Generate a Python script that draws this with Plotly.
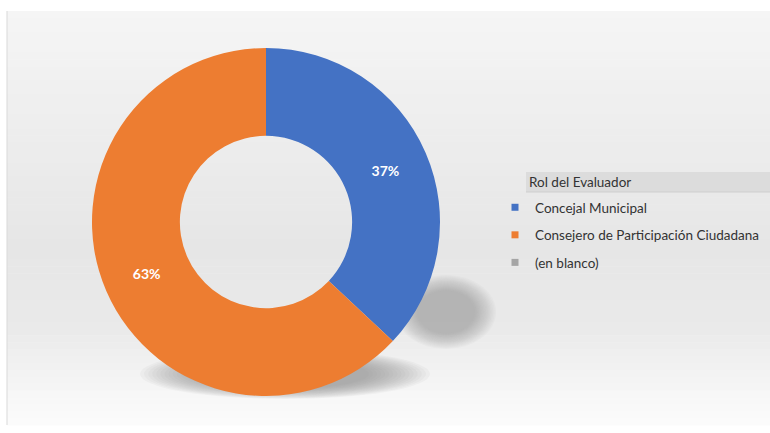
import plotly.graph_objects as go

labels = ["Concejal Municipal", "Consejero de Participación Ciudadana", "(en blanco)"]
values = [37, 63, 0]
pct_text = ["37%", "63%", ""]
colors = ["#4472C4", "#ED7D31", "#A5A5A5"]
legend_title = "Rol del Evaluador"

W, H = 770, 433

def px(x):
    return x / W

def py(y):
    return 1 - y / H

fig = go.Figure()
fig.add_trace(go.Pie(
    labels=labels,
    values=values,
    text=pct_text,
    textinfo="text",
    textposition="inside",
    insidetextfont=dict(color="white", size=14, family="Lato", weight="bold"),
    hole=0.495,
    sort=False,
    direction="clockwise",
    rotation=0,
    marker=dict(colors=colors, line=dict(width=0)),
    domain=dict(x=[px(92), px(440)], y=[py(396), py(48)]),
    showlegend=False,
))

# legend entries (one per category)
for i, (lab, col) in enumerate(zip(labels, colors)):
    fig.add_trace(go.Scatter(
        x=[None], y=[None], mode="markers", name=lab,
        legendgroup=str(i),
        marker=dict(symbol="square", size=7, color=col),
        showlegend=True, hoverinfo="skip",
    ))

shapes = []
# chart area background: vertical gradient
stops = [(11, (245, 245, 245)), (120, (238, 238, 238)), (250, (230, 230, 230)),
         (330, (234, 234, 234)), (390, (246, 246, 246)), (425, (252, 252, 252))]
N = 60
top, bot = 11, 425
for k in range(N):
    y0 = top + (bot - top) * k / N
    y1 = top + (bot - top) * (k + 1) / N
    ym = (y0 + y1) / 2
    for j in range(len(stops) - 1):
        if stops[j][0] <= ym <= stops[j + 1][0]:
            t = (ym - stops[j][0]) / (stops[j + 1][0] - stops[j][0])
            c = tuple(round(stops[j][1][m] + t * (stops[j + 1][1][m] - stops[j][1][m])) for m in range(3))
            break
    shapes.append(dict(type="rect", xref="paper", yref="paper", layer="below",
                       x0=px(7), x1=1, y0=py(y1 + 0.5), y1=py(y0),
                       fillcolor="rgb(%d,%d,%d)" % c, line=dict(width=0)))
shapes.append(dict(type="line", xref="paper", yref="paper", layer="below",
                   x0=px(7), x1=px(7), y0=py(425), y1=py(11),
                   line=dict(color="#d9d9d9", width=1)))
# soft shadows (stacked ellipses)
def soft_ellipse(cx, cy, rx, ry, steps=16, op=0.05, fmin=0.55):
    for s in range(steps):
        f = 1 - (1 - fmin) * s / steps
        shapes.append(dict(type="circle", xref="paper", yref="paper", layer="below",
                           x0=px(cx - rx * f), x1=px(cx + rx * f),
                           y0=py(cy + ry * f), y1=py(cy - ry * f),
                           fillcolor="#8a8a8a", opacity=op, line=dict(width=0)))
soft_ellipse(446, 312, 50, 37, op=0.045)
soft_ellipse(285, 374, 145, 25, op=0.06)
# legend title bar
shapes.append(dict(type="rect", xref="paper", yref="paper", layer="below",
                   x0=px(526), x1=1, y0=py(192), y1=py(172),
                   fillcolor="#dcdcdc", line=dict(width=0)))
shapes.append(dict(type="line", xref="paper", yref="paper", layer="below",
                   x0=px(526), x1=1, y0=py(192), y1=py(192),
                   line=dict(color="#cfcfcf", width=1)))

fig.update_layout(
    width=W, height=H,
    margin=dict(l=0, r=0, t=0, b=0, autoexpand=False),
    paper_bgcolor="white",
    plot_bgcolor="rgba(0,0,0,0)",
    shapes=shapes,
    xaxis=dict(visible=False),
    yaxis=dict(visible=False),
    font=dict(family="Lato", color="#333333"),
    annotations=[dict(text=legend_title, xref="paper", yref="paper",
                      x=px(527), y=py(182), xanchor="left", yanchor="middle",
                      showarrow=False, font=dict(size=13.5, color="#333333", family="Lato"))],
    legend=dict(
        font=dict(size=13.5, color="#333333", family="Lato"),
        x=px(495), y=py(192), xanchor="left", yanchor="top",
        bgcolor="rgba(0,0,0,0)",
        itemwidth=30,
        tracegroupgap=7,
        itemclick=False, itemdoubleclick=False,
    ),
)

fig.write_html(
    "out.html", config={"displayModeBar": False},
    post_script=("document.body.style.margin='0';"
                 "document.body.style.overflow='hidden';"
                 "document.documentElement.style.overflow='hidden';"),
)
